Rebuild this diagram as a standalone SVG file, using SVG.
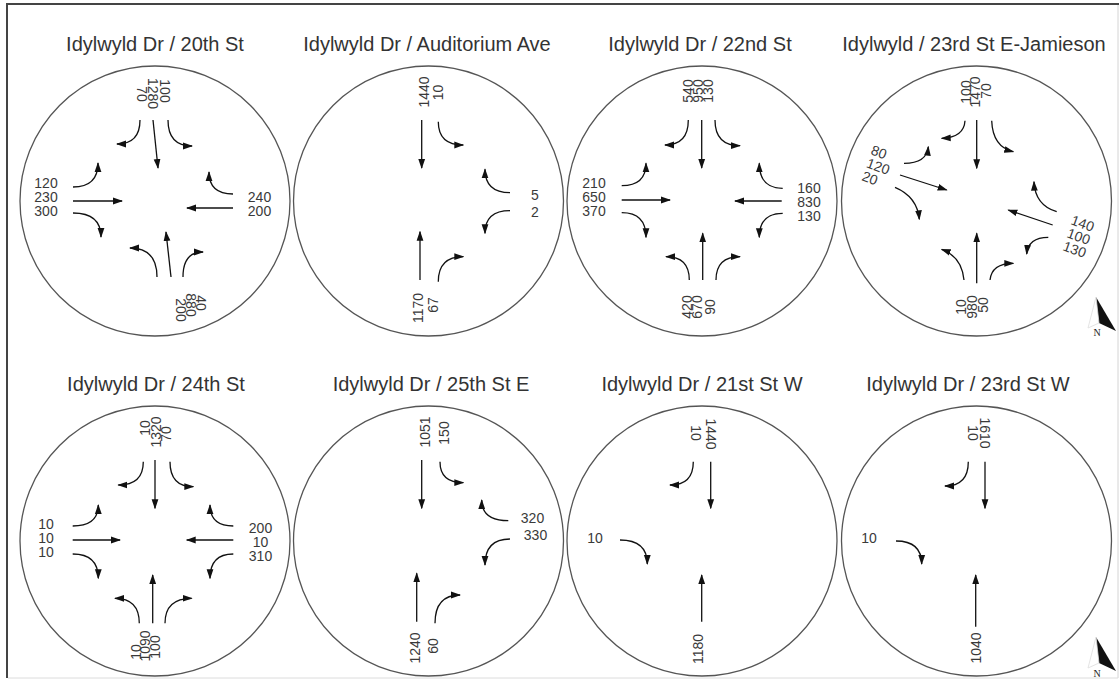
<svg xmlns="http://www.w3.org/2000/svg" width="1120" height="682" viewBox="0 0 1120 682">
<style>
.c{fill:none;stroke:#555;stroke-width:1.3}
.t{font-family:"Liberation Sans",Arial,sans-serif;font-size:20px;fill:#333;text-anchor:middle}
.n{font-family:"Liberation Sans",Arial,sans-serif;font-size:14px;fill:#3a3a3a;text-anchor:middle}
.s{font-family:"Liberation Sans",Arial,sans-serif;font-size:14px;fill:#3a3a3a;text-anchor:start}
.a{fill:none;stroke:#111;stroke-width:1.3;marker-end:url(#ah)}
</style>
<defs>
<marker id="ah" markerWidth="10" markerHeight="8" refX="9" refY="4" orient="auto" markerUnits="userSpaceOnUse"><path d="M0,0.6 L10,4 L0,7.4 z" fill="#111"/></marker>
</defs>
<rect width="1120" height="682" fill="#fff"/>
<g id="frame">
<line x1="6" y1="4" x2="1119" y2="4" stroke="#444" stroke-width="2"/>
<line x1="7" y1="4" x2="7" y2="678" stroke="#444" stroke-width="2"/>
<line x1="1118" y1="5" x2="1118" y2="678" stroke="#d4d4d4" stroke-width="1"/>
<line x1="8" y1="678" x2="1118" y2="678" stroke="#dcdcdc" stroke-width="1"/>
</g>

<g id="int-20th">
<circle class="c" cx="155" cy="201" r="135"/>
<text class="t" x="155" y="51">Idylwyld Dr / 20th St</text>
<text class="n" x="46" y="188">120</text>
<text class="n" x="46" y="202">230</text>
<text class="n" x="46" y="216">300</text>
<text class="n" x="259.5" y="202">240</text>
<text class="n" x="259.5" y="216">200</text>
<text class="n" transform="translate(160,91) rotate(90)">100</text>
<text class="n" transform="translate(148,93.5) rotate(90)">1280</text>
<text class="n" transform="translate(137,94) rotate(90)">70</text>
<text class="n" transform="translate(196,303) rotate(90)">40</text>
<text class="n" transform="translate(186,305) rotate(90)">880</text>
<text class="n" transform="translate(176,310) rotate(90)">200</text>
</g>

<g id="int-auditorium">
<circle class="c" cx="428.5" cy="201" r="135"/>
<text class="t" x="427" y="51">Idylwyld Dr / Auditorium Ave</text>
<text class="n" transform="translate(429,92) rotate(-90)">1440</text>
<text class="n" transform="translate(442.5,92.5) rotate(-90)">10</text>
<text class="n" x="535" y="200">5</text>
<text class="n" x="535" y="217">2</text>
<text class="n" transform="translate(422.5,308) rotate(-90)">1170</text>
<text class="n" transform="translate(438,305) rotate(-90)">67</text>
</g>

<g id="int-22nd">
<circle class="c" cx="702" cy="201" r="135"/>
<text class="t" x="700" y="51">Idylwyld Dr / 22nd St</text>
<text class="n" transform="translate(693,91) rotate(-90)">540</text>
<text class="n" transform="translate(703,91) rotate(-90)">950</text>
<text class="n" transform="translate(712.5,91) rotate(-90)">130</text>
<text class="n" x="594" y="188">210</text>
<text class="n" x="594" y="202">650</text>
<text class="n" x="594" y="216">370</text>
<text class="n" x="809" y="193">160</text>
<text class="n" x="809" y="207">830</text>
<text class="n" x="809" y="221">130</text>
<text class="n" transform="translate(691.7,307) rotate(-90)">420</text>
<text class="n" transform="translate(701.7,307) rotate(-90)">670</text>
<text class="n" transform="translate(715,307) rotate(-90)">90</text>
</g>

<g id="int-23rd-e-jamieson">
<circle class="c" cx="976.5" cy="201" r="135"/>
<text class="t" x="974" y="51">Idylwyld / 23rd St E-Jamieson</text>
<text class="n" transform="translate(971,92) rotate(-90)">100</text>
<text class="n" transform="translate(980,92) rotate(-90)">1470</text>
<text class="n" transform="translate(991,91) rotate(-90)">70</text>
<text class="s" transform="translate(870,154) rotate(20)">80</text>
<text class="s" transform="translate(865.5,167) rotate(20)">120</text>
<text class="s" transform="translate(861,180) rotate(20)">20</text>
<text class="s" transform="translate(1070,224) rotate(20)">140</text>
<text class="s" transform="translate(1066,237) rotate(20)">100</text>
<text class="s" transform="translate(1062,250) rotate(20)">130</text>
<text class="n" transform="translate(966,307) rotate(-90)">10</text>
<text class="n" transform="translate(976.7,307) rotate(-90)">980</text>
<text class="n" transform="translate(987.5,305) rotate(-90)">50</text>
</g>

<g id="int-24th">
<circle class="c" cx="155" cy="541" r="135"/>
<text class="t" x="156" y="391">Idylwyld Dr / 24th St</text>
<text class="n" transform="translate(150,428) rotate(-90)">10</text>
<text class="n" transform="translate(160.5,432) rotate(-90)">1320</text>
<text class="n" transform="translate(171,434) rotate(-90)">70</text>
<text class="n" x="46" y="529">10</text>
<text class="n" x="46" y="543">10</text>
<text class="n" x="46" y="557">10</text>
<text class="n" x="260.5" y="533">200</text>
<text class="n" x="260.5" y="547">10</text>
<text class="n" x="260.5" y="561">310</text>
<text class="n" transform="translate(141,652) rotate(-90)">10</text>
<text class="n" transform="translate(150,646) rotate(-90)">1090</text>
<text class="n" transform="translate(160,647) rotate(-90)">100</text>
</g>

<g id="int-25th-e">
<circle class="c" cx="428.5" cy="541" r="135"/>
<text class="t" x="431" y="391">Idylwyld Dr / 25th St E</text>
<text class="n" transform="translate(430,432) rotate(-90)">1051</text>
<text class="n" transform="translate(449,433) rotate(-90)">150</text>
<text class="n" x="532.5" y="523">320</text>
<text class="n" x="535.5" y="540">330</text>
<text class="n" transform="translate(420,648) rotate(-90)">1240</text>
<text class="n" transform="translate(438,646) rotate(-90)">60</text>
</g>

<g id="int-21st-w">
<circle class="c" cx="702" cy="541" r="135"/>
<text class="t" x="702" y="391">Idylwyld Dr / 21st St W</text>
<text class="n" transform="translate(706,434) rotate(90)">1440</text>
<text class="n" transform="translate(691,433) rotate(90)">10</text>
<text class="n" x="595" y="543">10</text>
<text class="n" transform="translate(702.5,649) rotate(-90)">1180</text>
</g>

<g id="int-23rd-w">
<circle class="c" cx="976.5" cy="541" r="135"/>
<text class="t" x="968" y="391">Idylwyld Dr / 23rd St W</text>
<text class="n" transform="translate(967.5,433) rotate(90)">10</text>
<text class="n" transform="translate(980,433) rotate(90)">1610</text>
<text class="n" x="869" y="543">10</text>
<text class="n" transform="translate(981,648) rotate(-90)">1040</text>
</g>

<g id="north-arrows">
<polygon points="1096,297 1116,331 1099,323" fill="#111"/>
<polygon points="1096,297 1099,323 1088,328" fill="none" stroke="#ddd" stroke-width="0.8"/>
<text x="1097" y="336" font-family="Liberation Serif,serif" font-size="10" fill="#222" text-anchor="middle">N</text>
<polygon points="1096,637 1116,671 1099,663" fill="#111"/>
<polygon points="1096,637 1099,663 1088,668" fill="none" stroke="#ddd" stroke-width="0.8"/>
<text x="1097" y="677" font-family="Liberation Serif,serif" font-size="10" fill="#222" text-anchor="middle">N</text>
</g>

<g id="connectors">
<g id="arrows-20th">
<path class="a" d="M153,120 L158,168"/>
<path class="a" d="M140,120 Q140,144 117,144"/>
<path class="a" d="M168,120 Q168,146 192,146"/>
<path class="a" d="M73,201 L122,201"/>
<path class="a" d="M73,187 Q98,187 98,163"/>
<path class="a" d="M73,213 Q101,213 101,237"/>
<path class="a" d="M233,208 L187,208"/>
<path class="a" d="M233,194 Q209,194 209,172"/>
<path class="a" d="M171,277 L166,232"/>
<path class="a" d="M157,277 Q157,248 130,248"/>
<path class="a" d="M183,277 Q183,252 203,252"/>
</g>
<g id="arrows-auditorium">
<path class="a" d="M421.7,120 L421.7,168"/>
<path class="a" d="M438.3,121.7 Q438.3,145 463.3,145"/>
<path class="a" d="M510,192.7 Q485,192.7 485,169.3"/>
<path class="a" d="M510,210.7 Q485,210.7 485,233.3"/>
<path class="a" d="M420,280 L420,231.7"/>
<path class="a" d="M438.3,281.7 Q438.3,256.7 463.3,256.7"/>
</g>
<g id="arrows-22nd">
<path class="a" d="M701.7,120 L701.7,168"/>
<path class="a" d="M688.3,120 Q688.3,145 665,145"/>
<path class="a" d="M715,120 Q715,145.7 740,145.7"/>
<path class="a" d="M621.7,200 L670,200"/>
<path class="a" d="M621.7,185.7 Q646,185.7 646,163.3"/>
<path class="a" d="M621.7,212.7 Q646,212.7 646,237.3"/>
<path class="a" d="M781.7,201 L735,201"/>
<path class="a" d="M782.7,188.3 Q759.3,188.3 759.3,163.3"/>
<path class="a" d="M782.7,213.3 Q759.3,213.3 759.3,237.3"/>
<path class="a" d="M702.7,280 L702.7,233.3"/>
<path class="a" d="M689.3,280 Q689.3,256.7 666,256.7"/>
<path class="a" d="M716,280 Q716,256.7 740,256.7"/>
</g>
<g id="arrows-23rd-e-jamieson">
<path class="a" d="M976.7,120 L976.7,168.3"/>
<path class="a" d="M965,120.7 Q964,137.3 941.7,138.3"/>
<path class="a" d="M991.7,120.7 Q992.7,146.7 1013.3,151.7"/>
<path class="a" d="M900,175 L946.7,190"/>
<path class="a" d="M904,163.3 Q926.7,163.3 928.3,146.7"/>
<path class="a" d="M895,187.3 Q917.3,196.7 919.3,219.3"/>
<path class="a" d="M1052.7,225 L1008.3,210"/>
<path class="a" d="M1056.7,211.7 Q1035,205 1034,181.7"/>
<path class="a" d="M1048.3,237.3 Q1028.3,237.3 1026.7,254"/>
<path class="a" d="M976.7,283.3 L976.7,233.3"/>
<path class="a" d="M964,280 Q961.7,256.7 941.7,249.3"/>
<path class="a" d="M990,280 Q991.7,263.3 1013.3,263.3"/>
</g>
<g id="arrows-24th">
<path class="a" d="M155,460 L155,508.3"/>
<path class="a" d="M143.3,461.7 Q143.3,485 118.3,485"/>
<path class="a" d="M170,461.7 Q170,486.7 193.3,486.7"/>
<path class="a" d="M72.7,540 L120,540"/>
<path class="a" d="M72.7,526 Q98.3,526 98.3,505"/>
<path class="a" d="M72.7,554 Q98.3,554 98.3,578.3"/>
<path class="a" d="M233.3,540 L186.7,540"/>
<path class="a" d="M233.3,526 Q210,526 210,505"/>
<path class="a" d="M233.3,554 Q210,554 210,578.3"/>
<path class="a" d="M152.7,623.3 L152.7,575"/>
<path class="a" d="M139.3,623.3 Q139.3,598.3 115,598.3"/>
<path class="a" d="M165,623.3 Q165,598.3 191.7,598.3"/>
</g>
<g id="arrows-25th-e">
<path class="a" d="M421.7,460 L421.7,508.3"/>
<path class="a" d="M440,461.7 Q440,482.7 463.3,482.7"/>
<path class="a" d="M508.3,520.7 Q481.7,520.7 481.7,500"/>
<path class="a" d="M510,539 Q485,539 485,565"/>
<path class="a" d="M416.7,621.7 L416.7,573.3"/>
<path class="a" d="M435,623.3 Q435,595 460,595"/>
</g>
<g id="arrows-21st-w">
<path class="a" d="M710.7,461.7 L710.7,508.3"/>
<path class="a" d="M693.3,461.7 Q693.3,485 670,485"/>
<path class="a" d="M620,540 Q647.3,540 647.3,564"/>
<path class="a" d="M701.7,621.7 L701.7,575"/>
</g>
<g id="arrows-23rd-w">
<path class="a" d="M985,461.7 L985,508.3"/>
<path class="a" d="M968.3,461.7 Q968.3,486 945,486"/>
<path class="a" d="M896,541 Q921.7,541 921.7,564"/>
<path class="a" d="M975.7,626.7 L975.7,575"/>
</g>
</g>
</svg>
